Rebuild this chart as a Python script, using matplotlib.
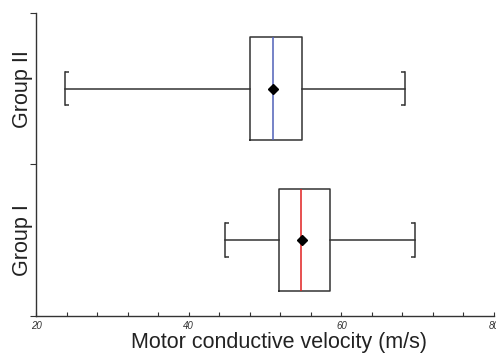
import matplotlib
matplotlib.use('Agg')
import matplotlib.pyplot as plt

plt.rcParams['font.family'] = ['Liberation Sans', 'DejaVu Sans']

groups = ['Group I', 'Group II']
whislo = [44.8, 23.8]
q1 = [51.8, 48.0]
med = [54.7, 51.0]
q3 = [58.5, 54.9]
whishi = [69.6, 68.3]
means = [54.8, 51.1]
median_colors = ['#e02020', '#5060b8']

positions = [0.5, 1.5]

fig = plt.figure(figsize=(4.96, 3.58), dpi=100)
ax = fig.add_axes([0.0726, 0.1182, 0.9234, 0.8455])

stats = []
for i in range(len(groups)):
    stats.append({'label': groups[i], 'whislo': whislo[i], 'q1': q1[i], 'med': med[i],
                  'q3': q3[i], 'whishi': whishi[i], 'mean': means[i], 'fliers': []})

bp = ax.bxp(stats, positions=positions, orientation='horizontal', widths=0.68, showmeans=True,
            capwidths=0.22, patch_artist=False,
            boxprops=dict(color='#333333', linewidth=1.1),
            whiskerprops=dict(color='#333333', linewidth=1.1),
            capprops=dict(color='#333333', linewidth=1.1),
            meanprops=dict(marker='D', markerfacecolor='black', markeredgecolor='black', markersize=5))
for line, c in zip(bp['medians'], median_colors):
    line.set_color(c)
    line.set_linewidth(1.1)

# bracket stubs on the caps
for i, p in enumerate(positions):
    for x, d in [(whislo[i], 0.5), (whishi[i], -0.5)]:
        for yy in (p - 0.11, p + 0.11):
            ax.plot([x, x + d], [yy, yy], color='#333333', lw=1.1, solid_capstyle='butt')

ax.set_xlim(20, 80)
ax.set_ylim(0, 2)
ax.set_xticks([20, 40, 60, 80])
ax.set_xticks(range(20, 81, 4), minor=True)
ax.set_xticklabels(['20', '40', '60', '80'], fontsize=7, style='italic', color='#333333')
ax.tick_params(axis='x', which='both', direction='in', length=3, width=0.8, color='#333333', pad=4)

ax.set_yticks([0, 1, 2])
ax.set_yticklabels([])
ax.set_yticks(positions, minor=True)
ax.set_yticklabels(groups, minor=True, rotation=90, va='center', fontsize=15.5, color='#222222')
ax.tick_params(axis='y', which='major', direction='out', length=4, width=0.8, color='#333333')
ax.tick_params(axis='y', which='minor', length=0, pad=2)

ax.spines['top'].set_visible(False)
ax.spines['right'].set_visible(False)
ax.spines['left'].set_color('#333333')
ax.spines['bottom'].set_color('#333333')
ax.spines['left'].set_linewidth(1.0)
ax.spines['bottom'].set_linewidth(1.0)

ax.set_xlabel('Motor conductive velocity (m/s)', fontsize=15.5, color='#222222')
ax.xaxis.set_label_coords(0.53, -0.055, transform=ax.transAxes)
ax.xaxis.label.set_va('top')

fig.savefig('out.png', dpi=100)
